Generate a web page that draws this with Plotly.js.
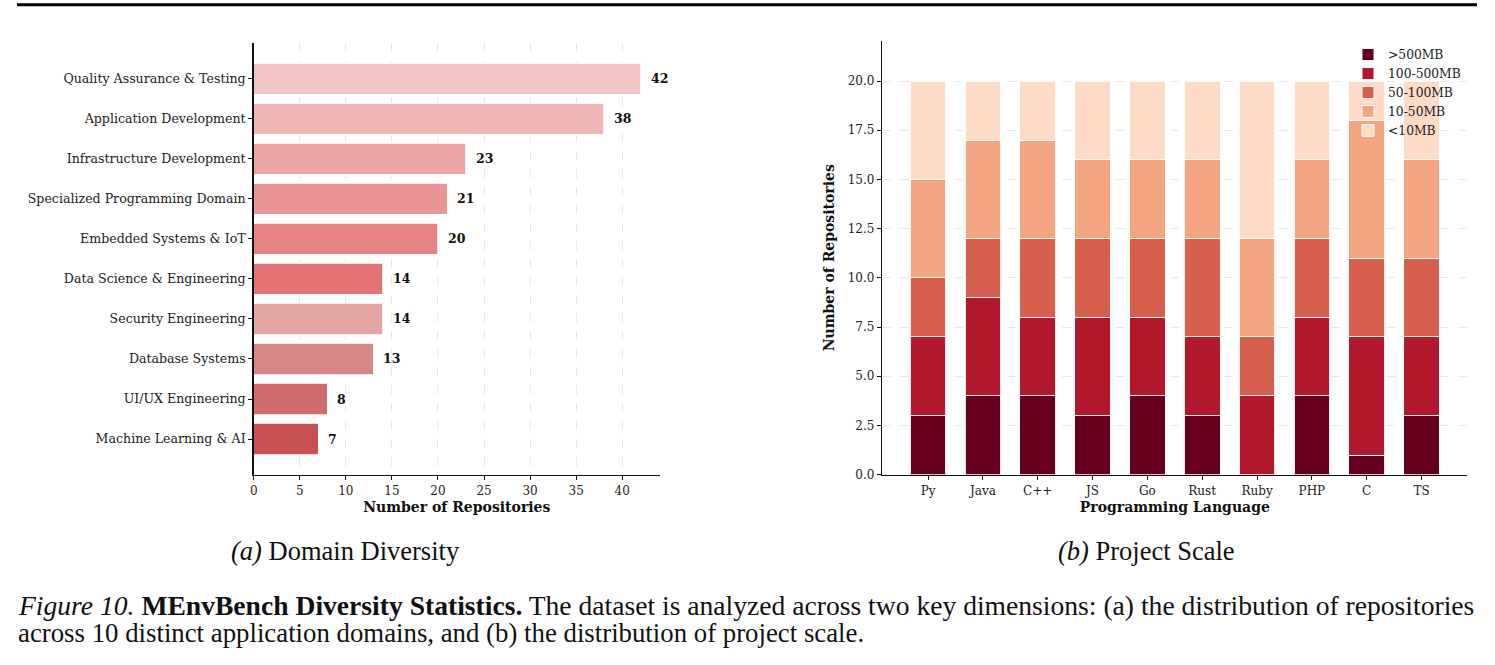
<!DOCTYPE html>
<html>
<head>
<meta charset="utf-8">
<script src="https://cdn.plot.ly/plotly-3.0.1.min.js"></script>
<style>html,body{margin:0;padding:0;background:#fff;}#chart{width:1495px;height:665px;}</style>
</head>
<body>
<div id="chart"></div>
<script>
// ---- Data: (a) Domain Diversity ----
const domains = [
  "Quality Assurance & Testing",
  "Application Development",
  "Infrastructure Development",
  "Specialized Programming Domain",
  "Embedded Systems & IoT",
  "Data Science & Engineering",
  "Security Engineering",
  "Database Systems",
  "UI/UX Engineering",
  "Machine Learning & AI"
];
const domainCounts = [42, 38, 23, 21, 20, 14, 14, 13, 8, 7];
const domainColors = [
  "rgb(242,196,196)", "rgb(240,183,183)", "rgb(236,166,166)", "rgb(234,149,149)",
  "rgb(232,131,131)", "rgb(229,115,115)", "rgb(228,165,165)", "rgb(216,135,135)",
  "rgb(208,108,108)", "rgb(200,80,80)"
];
const domainTicks = [0, 5, 10, 15, 20, 25, 30, 35, 40];

// ---- Data: (b) Project Scale ----
const languages = ["Py", "Java", "C++", "JS", "Go", "Rust", "Ruby", "PHP", "C", "TS"];
const scaleNames = [">500MB", "100-500MB", "50-100MB", "10-50MB", "<10MB"];
const over500 =   [3, 4, 4, 3, 4, 3, 0, 4, 1, 3];
const mb100to500 = [4, 5, 4, 5, 4, 4, 4, 4, 6, 4];
const mb50to100 =  [3, 3, 4, 4, 4, 5, 3, 4, 4, 4];
const mb10to50 =   [5, 5, 5, 4, 4, 4, 5, 4, 7, 5];
const under10 =    [5, 3, 3, 4, 4, 4, 8, 4, 2, 4];
const scaleColors = ["#67001f", "#b2182b", "#d6604d", "#f4a582", "#fddbc7"];
const scaleTicks = [0, 2.5, 5, 7.5, 10, 12.5, 15, 17.5, 20];

const W = 1495, H = 665;
const px = v => v / W;
const py = v => 1 - v / H;

const tickFontL = {family: "DejaVu Serif", size: 12.6, color: "#222"};
const tickFont = {family: "DejaVu Serif", size: 12, color: "#222"};
const titleFont = {family: "DejaVu Serif", size: 14, color: "#111", weight: "bold"};
const gridCol = "#e9e9e9";

const traces = [];
traces.push({
  type: "bar", orientation: "h",
  x: domainCounts, y: domains,
  width: 0.78,
  marker: {color: domainColors, line: {color: "rgba(255,255,255,0.8)", width: 1}},
  xaxis: "x", yaxis: "y", showlegend: false, hoverinfo: "x+y"
});

const stacks = [over500, mb100to500, mb50to100, mb10to50, under10];
stacks.forEach((vals, i) => {
  traces.push({
    type: "bar", x: languages, y: vals, name: scaleNames[i],
    width: 0.65,
    marker: {color: scaleColors[i], line: {color: "rgba(255,255,255,0.9)", width: 1}},
    xaxis: "x2", yaxis: "y2", showlegend: true
  });
});

const annotations = domains.map((d, i) => ({
  x: domainCounts[i], y: d, xref: "x", yref: "y",
  text: "<b>" + domainCounts[i] + "</b>", showarrow: false,
  xanchor: "left", xshift: 8,
  font: {family: "DejaVu Serif", size: 12.5, color: "#111"}
}));

const capFont = {family: "Liberation Serif", size: 26.5, color: "#111"};
annotations.push({xref: "paper", yref: "paper", x: px(345), y: py(551), text: "<i>(a)</i> Domain Diversity", showarrow: false, xanchor: "center", yanchor: "middle", font: capFont});
annotations.push({xref: "paper", yref: "paper", x: px(1146), y: py(551), text: "<i>(b)</i> Project Scale", showarrow: false, xanchor: "center", yanchor: "middle", font: capFont});
const figFont1 = {family: "Liberation Serif", size: 27.6, color: "#111"};
const figFont2 = {family: "Liberation Serif", size: 26.8, color: "#111"};
annotations.push({xref: "paper", yref: "paper", x: px(16), y: py(605), text: "<i>Figure 10.</i> <b>MEnvBench Diversity Statistics.</b> The dataset is analyzed across two key dimensions: (a) the distribution of repositories", showarrow: false, xanchor: "left", yanchor: "middle", font: figFont1});
annotations.push({xref: "paper", yref: "paper", x: px(16), y: py(633), text: "across 10 distinct application domains, and (b) the distribution of project scale.", showarrow: false, xanchor: "left", yanchor: "middle", font: figFont2});

const layout = {
  width: W, height: H,
  margin: {l: 0, r: 0, t: 0, b: 0},
  paper_bgcolor: "#fff", plot_bgcolor: "#fff",
  barmode: "stack",
  showlegend: true,
  legend: {
    x: px(1348), y: py(40), xanchor: "left", yanchor: "top",
    traceorder: "normal", bgcolor: "rgba(255,255,255,0)",
    font: {family: "DejaVu Serif", size: 12.3, color: "#222"},
    itemwidth: 30, tracegroupgap: 0
  },
  xaxis: {
    domain: [px(253.7), px(660)], anchor: "y",
    range: [0, 44.1], tickvals: domainTicks, ticktext: domainTicks.map(String),
    showline: true, linecolor: "#111", linewidth: 1.5,
    ticks: "outside", ticklen: 4, tickcolor: "#111",
    showgrid: true, gridcolor: gridCol, griddash: "dash", gridwidth: 1,
    zeroline: false, tickfont: tickFont,
    title: {text: "<b>Number of Repositories</b>", font: titleFont, standoff: 5}
  },
  yaxis: {
    domain: [py(474.7), py(43)], anchor: "x",
    type: "category", categoryorder: "array", categoryarray: domains,
    range: [9.89, -0.89],
    showline: true, linecolor: "#111", linewidth: 1.5,
    ticks: "outside", ticklen: 4, tickcolor: "#111",
    showgrid: false, zeroline: false, tickfont: tickFontL
  },
  xaxis2: {
    domain: [px(882.3), px(1467.3)], anchor: "y2",
    type: "category", categoryorder: "array", categoryarray: languages,
    range: [-0.835, 9.835],
    showline: true, linecolor: "#111", linewidth: 1.5,
    ticks: "outside", ticklen: 4, tickcolor: "#111",
    showgrid: false, zeroline: false, tickfont: tickFont,
    title: {text: "<b>Programming Language</b>", font: titleFont, standoff: 5}
  },
  yaxis2: {
    domain: [py(474.7), py(40.7)], anchor: "x2",
    range: [0, 22.05], tickvals: scaleTicks, ticktext: scaleTicks.map(v => v.toFixed(1)),
    showline: true, linecolor: "#111", linewidth: 1.5,
    ticks: "outside", ticklen: 4, tickcolor: "#111",
    showgrid: true, gridcolor: gridCol, griddash: "dash", gridwidth: 1,
    zeroline: false, tickfont: tickFont,
    title: {text: "<b>Number of Repositories</b>", font: titleFont, standoff: 10}
  },
  shapes: [{
    type: "line", xref: "paper", yref: "paper",
    x0: px(17), x1: px(1477), y0: py(4.8), y1: py(4.8),
    line: {color: "#000", width: 3}
  }],
  annotations: annotations
};

Plotly.newPlot("chart", traces, layout, {displayModeBar: false, staticPlot: true});
</script>
</body>
</html>
